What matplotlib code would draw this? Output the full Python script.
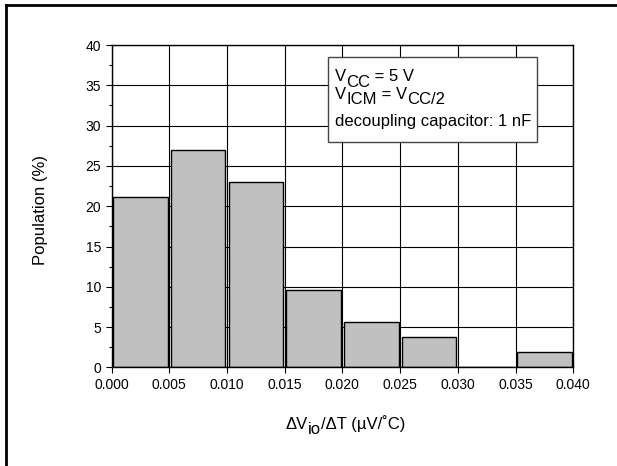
import numpy as np
import matplotlib
matplotlib.use("Agg")
import matplotlib.pyplot as plt
from matplotlib.lines import Line2D
from matplotlib.patches import Rectangle

## data
bin_left = [0.000, 0.005, 0.010, 0.015, 0.020, 0.025, 0.030, 0.035]
population = [21.1, 27.0, 23.0, 9.6, 5.7, 3.8, 0.0, 1.9]
bin_width = 0.005

x_ticks = [0.000, 0.005, 0.010, 0.015, 0.020, 0.025, 0.030, 0.035, 0.040]
y_ticks = [0, 5, 10, 15, 20, 25, 30, 35, 40]

plt.rcParams['font.family'] = ['Liberation Sans', 'DejaVu Sans']

FS = 12      # text size for labels / box
DROP = 3.8   # subscript drop in points (subscripts are full size in the original)


def chain(ax, x, y, parts, fs=FS):
    """write text pieces one after another; level -1 means lowered (subscript)"""
    first, lvl = parts[0]
    t = ax.text(x, y, first, transform=ax.transAxes, fontsize=fs,
                va='bottom', ha='left', zorder=5)
    prev, prev_lvl = t, lvl
    for s, lvl in parts[1:]:
        prev = ax.annotate(s, xy=(1, 0), xycoords=prev,
                           xytext=(0, (lvl - prev_lvl) * DROP),
                           textcoords='offset points', fontsize=fs,
                           va='bottom', ha='left', zorder=5,
                           annotation_clip=False)
        prev_lvl = lvl
    return t


fig = plt.figure(figsize=(6.17, 4.66), dpi=100)
ax = fig.add_axes([0.181, 0.2114, 0.748, 0.692])

centers = np.array(bin_left) + bin_width / 2
ax.bar(centers, population, width=bin_width * 0.945, color='#c0c0c0',
       edgecolor='black', linewidth=1.0, zorder=2)

ax.set_xlim(0, 0.040)
ax.set_ylim(0, 40)
ax.set_xticks(x_ticks)
ax.set_xticklabels(["%.3f" % v for v in x_ticks])
ax.set_yticks(y_ticks)
ax.set_yticks(np.arange(2.5, 40, 5), minor=True)
ax.grid(True, which='major', color='black', linewidth=0.8, zorder=1)
ax.set_axisbelow(True)
ax.tick_params(axis='both', which='major', direction='out', length=4.5,
               width=0.8, labelsize=10, pad=3)
ax.tick_params(axis='y', which='minor', direction='out', length=2.5, width=0.8)
for s in ax.spines.values():
    s.set_linewidth(1.0)
    s.set_zorder(3)

fig.text(40 / 617, 1 - 210 / 466, "Population (%)", fontsize=FS,
         rotation=90, ha='center', va='center')

# x axis label, built piece by piece
chain(ax, 0.3776, -0.1994, [("ΔV", 0), ("io", -1), ("/ΔT (µV/˚C)", 0)])

# condition box
ax.add_patch(Rectangle((0.4686, 0.699), 0.4528, 0.2636, transform=ax.transAxes,
                       facecolor='white', edgecolor='#444444', linewidth=1.0,
                       zorder=4))
chain(ax, 0.484, 0.8784, [("V", 0), ("CC", -1), (" = 5 V", 0)])
chain(ax, 0.484, 0.8239, [("V", 0), ("ICM", -1), (" = V", 0), ("CC/2", -1)])
chain(ax, 0.484, 0.7411, [("decoupling capacitor: 1 nF", 0)])

# page frame (left and top edges visible)
fig.add_artist(Line2D([0.0097, 0.0097], [0.0, 0.989], transform=fig.transFigure,
                      color='black', linewidth=2.0))
fig.add_artist(Line2D([0.0097, 1.0], [0.989, 0.989], transform=fig.transFigure,
                      color='black', linewidth=2.0))

fig.savefig("out.png", dpi=100)
